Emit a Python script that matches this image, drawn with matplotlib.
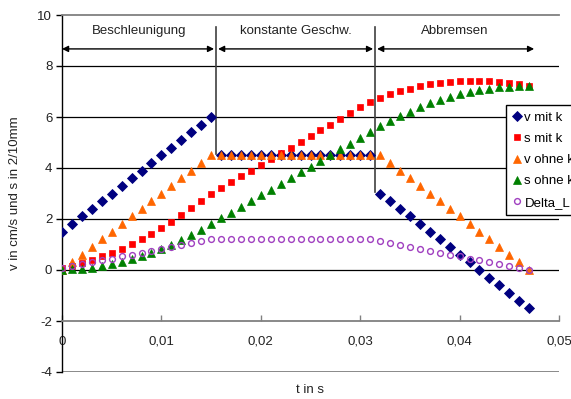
import matplotlib
matplotlib.use("Agg")
import matplotlib.pyplot as plt
import numpy as np

plt.rcParams['font.family'] = ['Liberation Sans', 'DejaVu Sans']
plt.rcParams['axes.unicode_minus'] = False

# time in ms (0 .. 47)
t_ms = [0, 1, 2, 3, 4, 5, 6, 7, 8, 9, 10, 11, 12, 13, 14, 15,
        16, 17, 18, 19, 20, 21, 22, 23, 24, 25, 26, 27, 28, 29, 30, 31,
        32, 33, 34, 35, 36, 37, 38, 39, 40, 41, 42, 43, 44, 45, 46, 47]

v_mit_k = [1.5, 1.8, 2.1, 2.4, 2.7, 3.0, 3.3, 3.6, 3.9, 4.2, 4.5, 4.8, 5.1, 5.4, 5.7, 6.0,
           4.5, 4.5, 4.5, 4.5, 4.5, 4.5, 4.5, 4.5, 4.5, 4.5, 4.5, 4.5, 4.5, 4.5, 4.5, 4.5,
           3.0, 2.7, 2.4, 2.1, 1.8, 1.5, 1.2, 0.9, 0.6, 0.3, 0.0, -0.3, -0.6, -0.9, -1.2, -1.5]

s_mit_k = [0.08, 0.17, 0.27, 0.39, 0.53, 0.68, 0.84, 1.02, 1.22, 1.43, 1.65, 1.89, 2.15, 2.42, 2.70, 3.00,
           3.23, 3.45, 3.68, 3.90, 4.13, 4.35, 4.58, 4.80, 5.03, 5.25, 5.48, 5.70, 5.93, 6.15, 6.38, 6.60,
           6.75, 6.89, 7.01, 7.11, 7.20, 7.28, 7.34, 7.38, 7.41, 7.43, 7.43, 7.41, 7.38, 7.34, 7.28, 7.20]

v_ohne_k = [0.0, 0.3, 0.6, 0.9, 1.2, 1.5, 1.8, 2.1, 2.4, 2.7, 3.0, 3.3, 3.6, 3.9, 4.2, 4.5,
            4.5, 4.5, 4.5, 4.5, 4.5, 4.5, 4.5, 4.5, 4.5, 4.5, 4.5, 4.5, 4.5, 4.5, 4.5, 4.5,
            4.5, 4.2, 3.9, 3.6, 3.3, 3.0, 2.7, 2.4, 2.1, 1.8, 1.5, 1.2, 0.9, 0.6, 0.3, 0.0]

s_ohne_k = [0.0, 0.02, 0.05, 0.09, 0.15, 0.23, 0.32, 0.42, 0.54, 0.68, 0.83, 0.99, 1.17, 1.37, 1.58, 1.80,
            2.03, 2.25, 2.48, 2.70, 2.93, 3.15, 3.38, 3.60, 3.83, 4.05, 4.28, 4.50, 4.73, 4.95, 5.18, 5.40,
            5.63, 5.84, 6.03, 6.21, 6.38, 6.53, 6.66, 6.78, 6.89, 6.98, 7.05, 7.11, 7.16, 7.19, 7.20, 7.20]

delta_l = [0.08, 0.15, 0.23, 0.30, 0.38, 0.45, 0.53, 0.60, 0.68, 0.75, 0.83, 0.90, 0.98, 1.05, 1.13, 1.20,
           1.20, 1.20, 1.20, 1.20, 1.20, 1.20, 1.20, 1.20, 1.20, 1.20, 1.20, 1.20, 1.20, 1.20, 1.20, 1.20,
           1.13, 1.05, 0.98, 0.90, 0.83, 0.75, 0.68, 0.60, 0.53, 0.45, 0.38, 0.30, 0.23, 0.15, 0.08, 0.0]

x_ticks = [0, 0.01, 0.02, 0.03, 0.04, 0.05]
x_tick_labels = ["0", "0,01", "0,02", "0,03", "0,04", "0,05"]
y_ticks = [-4, -2, 0, 2, 4, 6, 8, 10]

# phases: boundaries and labels
phase_bounds = [0.0, 0.0155, 0.0315, 0.0475]
phase_labels = ["Beschleunigung", "konstante Geschw.", "Abbremsen"]

t = np.array(t_ms) / 1000.0

fig = plt.figure(figsize=(5.71, 3.99), dpi=100)
ax = fig.add_axes([62 / 571, 1 - 372 / 399, 497 / 571, 357 / 399])

fs = 9.5

# gridlines
for y in [0, 2, 4, 6, 8]:
    ax.axhline(y, color="black", lw=0.9, zorder=1)
ax.axhline(-4, color="#808080", lw=1.3, zorder=1)

ax.plot(t, v_mit_k, linestyle="none", marker="D", ms=5.6, color="#000080",
        mec="#000080", mew=0.6, label="v mit k", zorder=3)
ax.plot(t, s_mit_k, linestyle="none", marker="s", ms=4.6, color="#FF0000",
        mec="#FF0000", mew=0.5, label="s mit k", zorder=3)
ax.plot(t, v_ohne_k, linestyle="none", marker="^", ms=5.6, color="#FF6600",
        mec="#FF6600", mew=0.5, label="v ohne k", zorder=3)
ax.plot(t, s_ohne_k, linestyle="none", marker="^", ms=5.6, color="#008000",
        mec="#008000", mew=0.5, label="s ohne k", zorder=3)
ax.plot(t, delta_l, linestyle="none", marker="o", ms=4.2, mfc="none",
        mec="#A040C0", mew=1.0, label="Delta_L", zorder=3)

ax.set_xlim(0, 0.05)
ax.set_ylim(-4, 10)

# axes styling
ax.spines["right"].set_visible(False)
ax.spines["top"].set_color("#808080")
ax.spines["top"].set_linewidth(1.3)
ax.spines["left"].set_color("black")
ax.spines["left"].set_linewidth(1.0)
ax.spines["bottom"].set_position(("data", -2))
ax.spines["bottom"].set_color("#808080")
ax.spines["bottom"].set_linewidth(1.3)

ax.set_xticks(x_ticks)
ax.set_xticklabels(x_tick_labels)
ax.set_yticks(y_ticks)
ax.tick_params(axis="x", direction="in", length=4, width=1, color="#808080",
               pad=10.5, labelsize=fs, labelcolor="#222222")
ax.tick_params(axis="y", direction="out", length=4, width=1, color="black",
               pad=3, labelsize=fs, labelcolor="#222222")

ax.set_xlabel("t in s", fontsize=fs, color="#222222")
ax.xaxis.set_label_coords(0.5, -0.05)
ax.xaxis.label.set_va("center")
ax.set_ylabel("v in cm/s und s in 2/10mm", fontsize=fs, color="#222222")
ax.yaxis.set_label_coords(-0.094, 0.5)
ax.yaxis.label.set_va("center")

# phase annotations
arrow_y = 8.67
text_y = 9.37
ax.plot([phase_bounds[1]] * 2, [9.53, 4.55], color="#404040", lw=1.2, zorder=2)
ax.plot([phase_bounds[2]] * 2, [9.53, 3.05], color="#404040", lw=1.2, zorder=2)
for i, lab in enumerate(phase_labels):
    x0 = phase_bounds[i] + (0.0002 if i > 0 else 0)
    x1 = phase_bounds[i + 1] - (0.0002 if i < 2 else 0)
    ax.annotate("", xy=(x1, arrow_y), xytext=(x0, arrow_y),
                arrowprops=dict(arrowstyle="<|-|>", color="black", lw=1.0,
                                mutation_scale=9, shrinkA=0, shrinkB=0), zorder=4)
    ax.text((phase_bounds[i] + phase_bounds[i + 1]) / 2, text_y, lab,
            ha="center", va="center", fontsize=fs, color="#222222")

leg = fig.legend(loc="upper left", bbox_to_anchor=(506 / 571, 1 - 105 / 399),
                 bbox_transform=fig.transFigure, fontsize=fs, frameon=True,
                 fancybox=False, framealpha=1, edgecolor="black",
                 handlelength=0.6, handletextpad=0.3, labelspacing=0.68,
                 borderpad=0.5, borderaxespad=0)
leg.get_frame().set_linewidth(1.0)

plt.savefig("out.png", dpi=100)
plt.close()
